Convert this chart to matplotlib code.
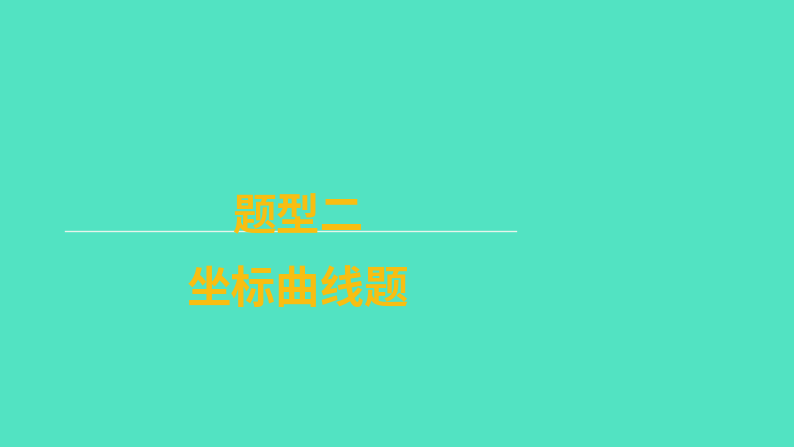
import matplotlib
matplotlib.use("Agg")
import matplotlib.pyplot as plt

plt.rcParams['font.family'] = ['Noto Sans CJK SC', 'DejaVu Sans']

title_lines = ["题型二", "坐标曲线题"]
bg = "#52E3C2"
text_color = "#F8BE12"
line_color = "#E6F5EC"

fig = plt.figure(figsize=(7.94, 4.47), dpi=100)
fig.patch.set_facecolor(bg)
ax = fig.add_axes([0, 0, 1, 1])
ax.set_xlim(0, 794)
ax.set_ylim(447, 0)
ax.axis('off')

ax.plot([65, 516], [231, 231], color=line_color, lw=1.0, zorder=1)
ax.text(298, 217, title_lines[0], color=text_color, fontsize=31.5, fontweight='bold',
        ha='center', va='center', zorder=2)
ax.text(298, 290, title_lines[1], color=text_color, fontsize=32, fontweight='bold',
        ha='center', va='center', zorder=2)

fig.savefig("out.png", dpi=100, facecolor=bg)
